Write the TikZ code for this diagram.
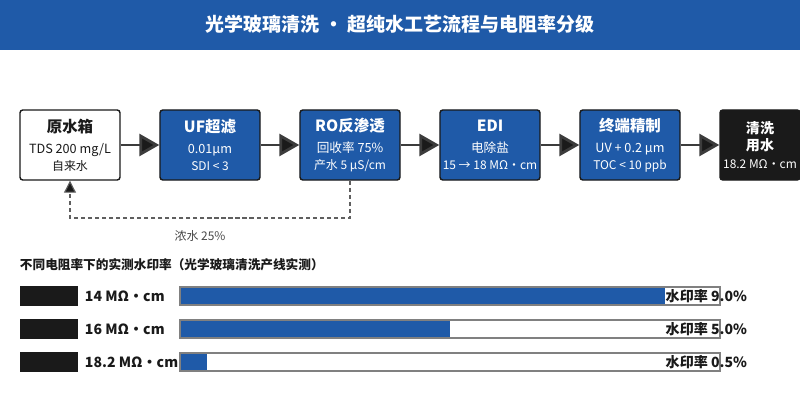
\documentclass[tikz,border=0pt]{standalone}
\usepackage{fontspec}
\setmainfont{Noto Sans CJK SC}
\usetikzlibrary{arrows.meta,positioning}
\definecolor{hdrblue}{HTML}{1F5AA8}
\definecolor{boxblue}{HTML}{1F5AA8}
\definecolor{inkgray}{HTML}{1A1A1A}
\tikzset{
  stage/.style={draw=inkgray, line width=1pt, rounded corners=2pt, fill=boxblue,
    text=white, minimum width=2.5cm, minimum height=1.75cm, align=center, inner sep=1pt},
  flow/.style={draw=inkgray!85, line width=2pt, -{Triangle[length=0.5cm,width=0.55cm,fill=inkgray]}},
  swatch/.style={fill=inkgray, minimum width=1.45cm, minimum height=0.5cm, inner sep=0pt},
}
\newcommand{\stagetext}[3]{{\fontsize{11}{13}\bfseries #1}\\[3pt]{\fontsize{9}{11}\selectfont #2}\\{\fontsize{8.5}{11}\selectfont #3}}
\begin{document}
\begin{tikzpicture}[x=0.025cm,y=-0.025cm]
  \useasboundingbox (0,0) rectangle (800,400);
  \fill[hdrblue] (0,0) rectangle (800,50);
  \node[text=white, font=\fontsize{13.5}{16}\bfseries] (title) at (400,24) {光学玻璃清洗 · 超纯水工艺流程与电阻率分级};

  % process line
  \node[stage, fill=white, text=inkgray] (tank) at (70,145) {\stagetext{原水箱}{TDS 200 mg/L}{自来水}};
  \node[stage] (uf) at (210,145) {\stagetext{UF超滤}{0.01μm}{SDI < 3}};
  \node[stage] (ro) at (350,145) {\stagetext{RO反渗透}{回收率 75\%}{产水 5 μS/cm}};
  \node[stage] (edi) at (490,145) {\stagetext{EDI}{电除盐}{15 → 18 MΩ·cm}};
  \node[stage] (polish) at (630,145) {\stagetext{终端精制}{UV + 0.2 μm}{TOC < 10 ppb}};
  \node[stage, fill=inkgray, minimum width=2cm] (use) at (760,145) {{\fontsize{10}{12}\bfseries 清洗}\\{\fontsize{10}{12}\bfseries 用水}\\[1pt]{\fontsize{8.5}{10}\selectfont 18.2 MΩ·cm}};
  \draw[flow] (tank) -- (uf);
  \draw[flow] (uf) -- (ro);
  \draw[flow] (ro) -- (edi);
  \draw[flow] (edi) -- (polish);
  \draw[flow] (polish) -- (use);

  % reject water loop
  \coordinate (rj1) at (350,218);
  \coordinate (rj2) at (70,218);
  \draw[inkgray!70, line width=0.8pt, dash pattern=on 3pt off 2pt, -{Triangle[length=0.3cm,width=0.3cm,fill=inkgray]}]
    (ro.south) -- (rj1) -- (rj2) -- (tank.south);
  \node[text=inkgray!80, font=\fontsize{8.5}{10}\selectfont] (reject) at (200,236) {浓水 25\%};

  % resistivity bars
  \node[anchor=west, text=inkgray, font=\fontsize{9}{11}\bfseries] (bartitle) at (15,265) {不同电阻率下的实测水印率（光学玻璃清洗产线实测）};
  \foreach \y/\r/\v/\w [count=\i] in {296/14/9.0/665, 329/16/5.0/450, 362/18.2/0.5/207}{
    \node[swatch] (sw\i) at (49,\y) {};
    \node[anchor=west, text=inkgray, font=\fontsize{10}{12}\bfseries] (res\i) at (80,\y) {\r\ MΩ·cm};
    \fill[boxblue] (180,\y-9) rectangle (\w,\y+9);
    \draw[gray, line width=0.8pt] (180,\y-9) rectangle (720,\y+9);
    \node[anchor=east, text=inkgray, font=\fontsize{10}{12}\bfseries] (mark\i) at (752,\y) {水印率 \v\%};
  }
\end{tikzpicture}
\end{document}
